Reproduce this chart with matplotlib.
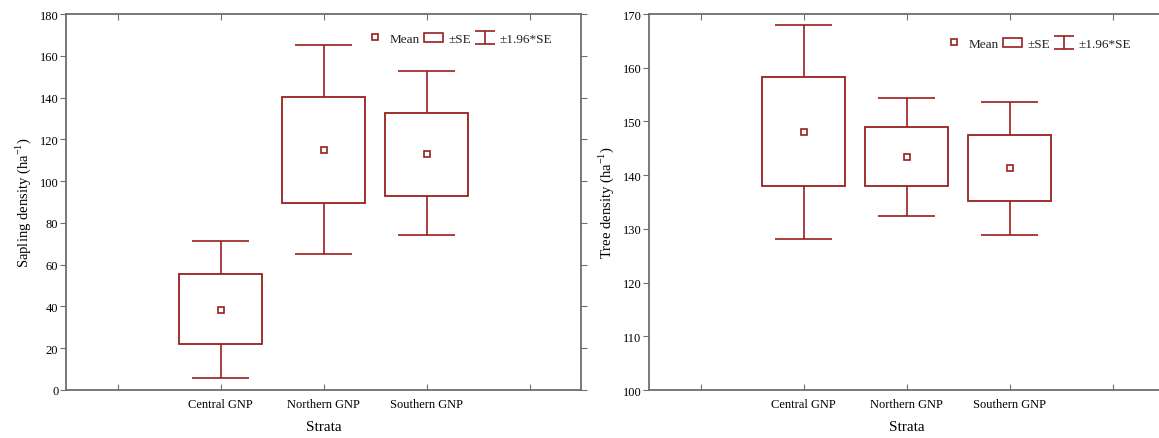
import numpy as np
import matplotlib
matplotlib.use("Agg")
import matplotlib.pyplot as plt
from matplotlib.lines import Line2D
from matplotlib.patches import Rectangle

plt.rcParams['font.family'] = ['Liberation Serif', 'DejaVu Serif']
plt.rcParams['font.size'] = 9
plt.rcParams['text.color'] = '#222222'

strata = ["Central GNP", "Northern GNP", "Southern GNP"]

# sapling density (ha-1)
sap_mean = [38.3, 115.0, 112.8]
sap_se_lo = [21.9, 89.7, 93.0]
sap_se_hi = [55.4, 140.4, 132.8]
sap_ci_lo = [5.8, 65.1, 74.0]
sap_ci_hi = [71.5, 165.2, 152.5]

# tree density (ha-1)
tree_mean = [148.0, 143.3, 141.3]
tree_se_lo = [137.9, 137.9, 135.1]
tree_se_hi = [158.3, 148.9, 147.5]
tree_ci_lo = [128.1, 132.4, 128.9]
tree_ci_hi = [168.0, 154.3, 153.6]

RED = '#9a1f1f'
SPINE = '#6e6e6e'


def draw_panel(ax, mean, se_lo, se_hi, ci_lo, ci_hi, ylim, yticks, ylabel, leg_anchor):
    x = np.arange(1, len(mean) + 1)
    se_lo, se_hi = np.array(se_lo), np.array(se_hi)
    ax.bar(x, se_hi - se_lo, bottom=se_lo, width=0.81, fill=False,
           edgecolor=RED, linewidth=1.3, zorder=2)
    ax.vlines(x, se_hi, ci_hi, color=RED, lw=1.2)
    ax.vlines(x, ci_lo, se_lo, color=RED, lw=1.2)
    ax.hlines(ci_hi, x - 0.28, x + 0.28, color=RED, lw=1.2)
    ax.hlines(ci_lo, x - 0.28, x + 0.28, color=RED, lw=1.2)
    ax.plot(x, mean, 's', ms=4.5, mfc='white', mec=RED, mew=1.2, ls='none', zorder=3)

    ax.set_xlim(-0.5, 4.5)
    ax.set_ylim(*ylim)
    ax.set_yticks(yticks)
    ax.set_xticks(range(0, 5))
    ax.set_xticklabels([""] + strata + [""])
    ax.set_xlabel("Strata", labelpad=7, fontsize=11)
    ax.set_ylabel(ylabel, labelpad=5, fontsize=10.5)

    for s in ax.spines.values():
        s.set_color(SPINE)
        s.set_linewidth(1.3)
    ax.tick_params(axis='y', direction='out', length=4, color=SPINE,
                   left=True, right=True, labelright=False, pad=1.5)
    ax.tick_params(axis='x', direction='in', length=4, color=SPINE,
                   bottom=True, top=True, pad=6)

    # legend proxies
    h_mean = Line2D([], [], marker='s', ms=4.5, mfc='white', mec=RED, mew=1.2, ls='none')
    h_se = Rectangle((0, 0), 1, 1, fill=False, edgecolor=RED, lw=1.2)
    h_ci = ax.errorbar([np.nan], [np.nan], yerr=[1], fmt='none', ecolor=RED,
                       elinewidth=1.2, capsize=7, capthick=1.2)
    ax.legend([h_mean, h_se, h_ci], ["Mean", "±SE", "±1.96*SE"], ncol=3,
              frameon=False, handlelength=1.4, handletextpad=0.4,
              columnspacing=0.35, loc='upper left', bbox_to_anchor=leg_anchor,
              fontsize=9.5)


fig = plt.figure(figsize=(11.59, 4.39), dpi=100)
ax1 = fig.add_axes([66 / 1159, 1 - 391 / 439, 515 / 1159, 376 / 439])
ax2 = fig.add_axes([649 / 1159, 1 - 391 / 439, 515 / 1159, 376 / 439])

draw_panel(ax1, sap_mean, sap_se_lo, sap_se_hi, sap_ci_lo, sap_ci_hi,
           (0, 180), range(0, 181, 20), "Sapling density (ha$^{\\mathregular{-1}}$)",
           (0.559, 0.982))
draw_panel(ax2, tree_mean, tree_se_lo, tree_se_hi, tree_ci_lo, tree_ci_hi,
           (100, 170), range(100, 171, 10), "Tree density (ha$^{\\mathregular{-1}}$)",
           (0.551, 0.969))

fig.savefig("out.png", dpi=100)
